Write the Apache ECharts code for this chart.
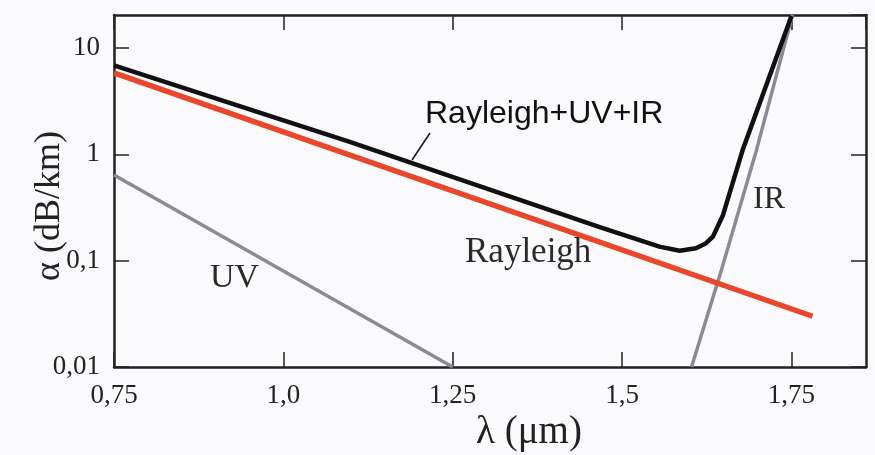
<!DOCTYPE html>
<html>
<head>
<meta charset="utf-8">
<script src="https://cdn.jsdelivr.net/npm/echarts@6/dist/echarts.min.js"></script>
<style>html,body{margin:0;padding:0;background:#fafafc;}#c{width:875px;height:455px;}</style>
</head>
<body>
<div id="c"></div>
<script>
// ---- data ----
var xTickValues = [0.75, 1.0, 1.25, 1.5, 1.75];
var xTickLabels = ['0,75', '1,0', '1,25', '1,5', '1,75'];
var yTickValues = [0.01, 0.1, 1, 10];
var yTickLabels = ['0,01', '0,1', '1', '10'];

var rayleighX = [0.75, 1.781];
var rayleighY = [5.83, 0.030];

var uvX = [0.75, 1.25];
var uvY = [0.64, 0.01];

var irX = [1.6025, 1.6467, 1.6984, 1.7515];
var irY = [0.01, 0.082, 1.10, 20.4];

var totalX = [0.75, 1.098, 1.467, 1.555, 1.585, 1.609, 1.624, 1.634, 1.641, 1.649, 1.678, 1.750];
var totalY = [6.85, 1.31, 0.207, 0.1355, 0.124, 0.131, 0.146, 0.168, 0.209, 0.269, 1.10, 20.0];

var xMin = 0.75, xMax = 1.86, yMin = 0.01, yMax = 20.4;

function pairs(xs, ys) { return xs.map(function (x, i) { return [x, ys[i]]; }); }
function xFmt(v) {
  for (var i = 0; i < xTickValues.length; i++) if (Math.abs(v - xTickValues[i]) < 1e-6) return xTickLabels[i];
  return '';
}
function yFmt(v) {
  for (var i = 0; i < yTickValues.length; i++) if (Math.abs(Math.log10(v) - Math.log10(yTickValues[i])) < 1e-6) return yTickLabels[i];
  return '';
}

var axisCol = '#222';
var serif = '"Liberation Serif", "DejaVu Serif", serif';
var chart = echarts.init(document.getElementById('c'), null, { renderer: 'canvas' });

var baseX = {
  type: 'value', min: xMin, max: xMax, interval: 0.25,
  axisLine: { show: true, onZero: false, lineStyle: { color: axisCol, width: 2.5 } },
  axisTick: { show: true, inside: true, length: 15, lineStyle: { color: axisCol, width: 1.5 } },
  splitLine: { show: false }
};
var baseY = {
  type: 'log', logBase: 10, min: yMin, max: yMax,
  axisLine: { show: true, onZero: false, lineStyle: { color: axisCol, width: 2.5 } },
  axisTick: { show: true, inside: true, length: 15, lineStyle: { color: axisCol, width: 1.5 } },
  splitLine: { show: false }
};

chart.setOption({
  backgroundColor: '#fafafc',
  animation: false,
  grid: { left: 114, right: 9, top: 15, bottom: 88, containLabel: false, outerBoundsMode: 'none' },
  xAxis: [
    Object.assign({}, baseX, {
      position: 'bottom',
      name: 'λ (μm)', nameLocation: 'middle', nameGap: 46, nameMoveOverlap: false,
      nameTextStyle: { fontFamily: serif, fontSize: 39, color: '#222', padding: [0, 0, 0, 78] },
      axisLabel: { show: true, formatter: xFmt, fontFamily: serif, fontSize: 27, color: '#222', margin: 15, showMaxLabel: false }
    }),
    Object.assign({}, baseX, { position: 'top', axisLabel: { show: false } })
  ],
  yAxis: [
    Object.assign({}, baseY, {
      position: 'left',
      name: 'α (dB/km)', nameLocation: 'middle', nameGap: 46, nameRotate: 90, nameMoveOverlap: false,
      nameTextStyle: { fontFamily: serif, fontSize: 36, color: '#222', padding: [0, 30, 0, 0] },
      axisLabel: { show: true, formatter: yFmt, fontFamily: serif, fontSize: 27, color: '#222', margin: 14, showMaxLabel: false }
    }),
    Object.assign({}, baseY, { position: 'right', axisLabel: { show: false } })
  ],
  series: [
    { name: 'UV', type: 'line', data: pairs(uvX, uvY), showSymbol: false, z: 2,
      lineStyle: { color: '#8c8a94', width: 3.5 } },
    { name: 'IR', type: 'line', data: pairs(irX, irY), showSymbol: false, z: 2,
      lineStyle: { color: '#8c8a94', width: 3.5 } },
    { name: 'Rayleigh+UV+IR', type: 'line', data: pairs(totalX, totalY), showSymbol: false, z: 3,
      lineStyle: { color: '#111', width: 4.5, join: 'round' } },
    { name: 'Rayleigh', type: 'line', data: pairs(rayleighX, rayleighY), showSymbol: false, z: 4,
      lineStyle: { color: '#e8472c', width: 5.5 } }
  ],
  graphic: [
    { type: 'line', z: 10, shape: { x1: 430, y1: 133, x2: 412, y2: 160 }, style: { stroke: '#111', lineWidth: 1.5 } },
    { type: 'text', z: 10, x: 425, y: 114, style: { text: 'Rayleigh+UV+IR', font: '32px "Liberation Sans", Arial, sans-serif', fill: '#111', textVerticalAlign: 'middle', textAlign: 'left' } },
    { type: 'text', z: 10, x: 465, y: 253, style: { text: 'Rayleigh', font: '35px "Liberation Serif", serif', fill: '#2a2a2a', textVerticalAlign: 'middle', textAlign: 'left' } },
    { type: 'text', z: 10, x: 210, y: 278, style: { text: 'UV', font: '34px "Liberation Serif", serif', fill: '#2a2a2a', textVerticalAlign: 'middle', textAlign: 'left' } },
    { type: 'text', z: 10, x: 753, y: 200, style: { text: 'IR', font: '32px "Liberation Serif", serif', fill: '#2a2a2a', textVerticalAlign: 'middle', textAlign: 'left' } }
  ]
});
</script>
</body>
</html>
